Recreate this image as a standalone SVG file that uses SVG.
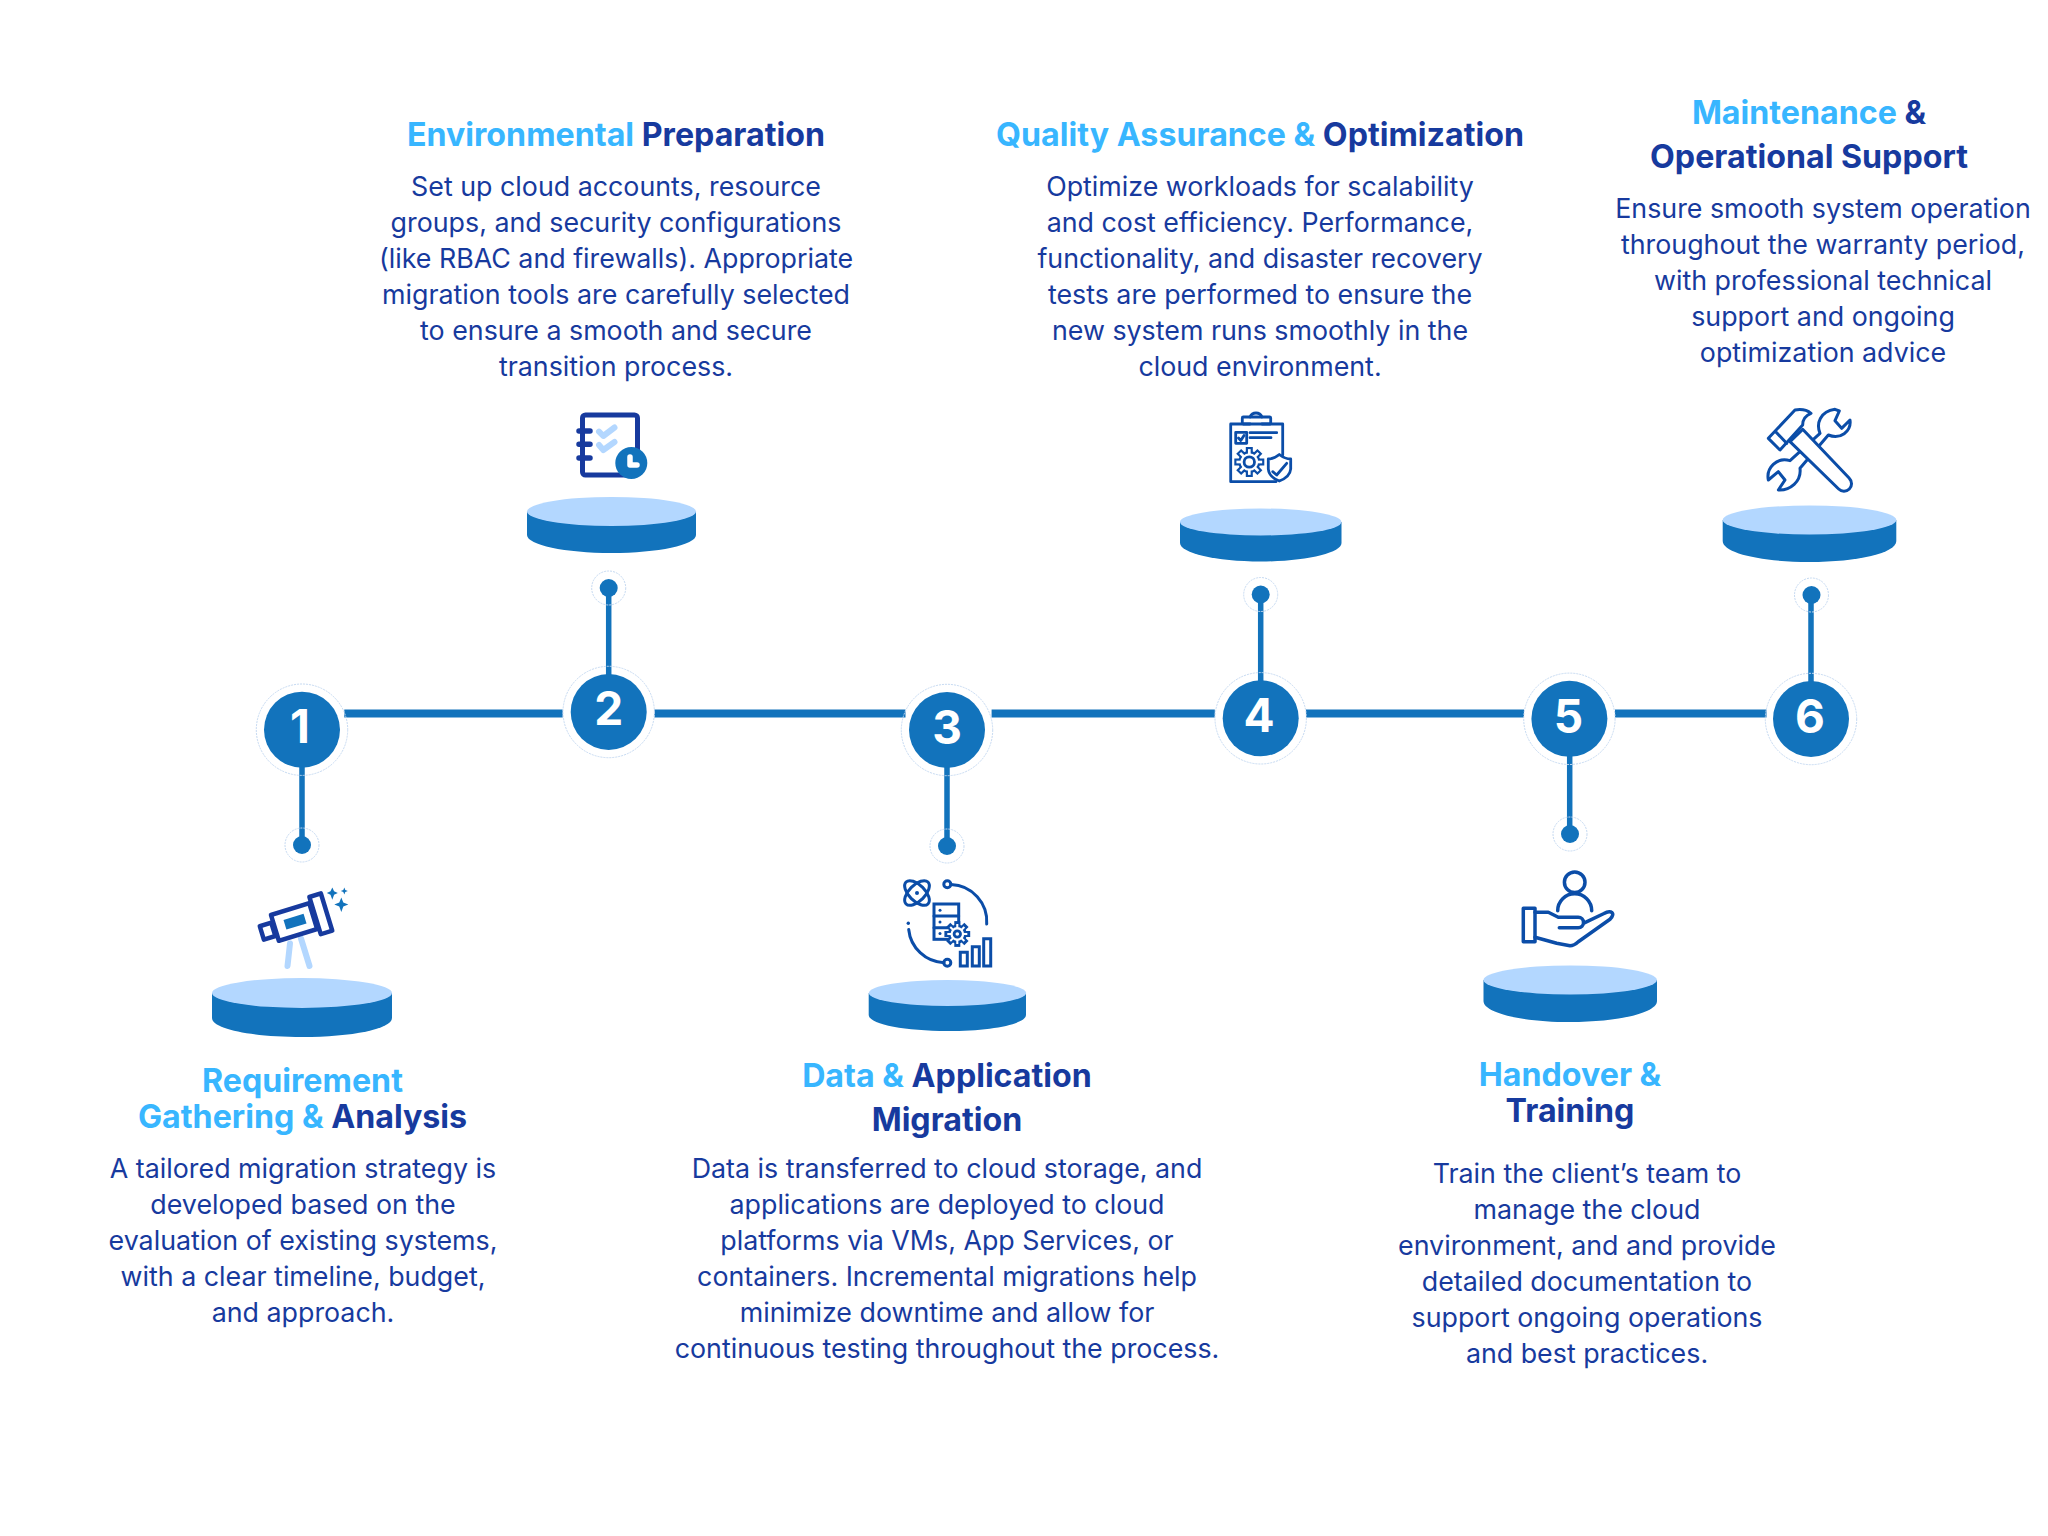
<svg xmlns="http://www.w3.org/2000/svg" width="2048" height="1536" viewBox="0 0 2048 1536">
<style>
text{font-family:Inter,"Liberation Sans",sans-serif;text-anchor:middle}
.t{font-size:32.2px;font-weight:700;fill:#173A9E}
.l{fill:#38B6FF}
.b{font-size:26.8px;fill:#173A9E}
.n{font-size:46px;font-weight:700;fill:#fff}
.c{fill:#1273BC}
.h{fill:none;stroke:#C6DAF2;stroke-width:1;stroke-dasharray:2 1}
.top{fill:#B3D7FF}
.ln{stroke:#1273BC;stroke-linecap:butt;fill:none}
.i{fill:none;stroke:#0B4DA8;stroke-linecap:round;stroke-linejoin:round}
.d{fill:none;stroke:#173A9E;stroke-linecap:round;stroke-linejoin:round}
.bg{fill:#fff}
</style>
<defs>
<g id="go" fill="#0B4DA8"><circle r="11"/><rect x="-3.5" y="-15" width="7" height="7" id="tt"/><use href="#tt" transform="rotate(45)"/><use href="#tt" transform="rotate(90)"/><use href="#tt" transform="rotate(135)"/><use href="#tt" transform="rotate(180)"/><use href="#tt" transform="rotate(225)"/><use href="#tt" transform="rotate(270)"/><use href="#tt" transform="rotate(315)"/></g>
<g id="gi" fill="#fff"><circle r="8.6"/><rect x="-1.3" y="-12.5" width="2.6" height="7" id="ti"/><use href="#ti" transform="rotate(45)"/><use href="#ti" transform="rotate(90)"/><use href="#ti" transform="rotate(135)"/><use href="#ti" transform="rotate(180)"/><use href="#ti" transform="rotate(225)"/><use href="#ti" transform="rotate(270)"/><use href="#ti" transform="rotate(315)"/></g>
</defs>
<rect width="2048" height="1536" fill="#fff"/>
<g id="connectors">
<path class="ln" stroke-width="8" d="M344.300 713.500H562.700M654.400 713.500H905.500M991.600 713.500H1214.800M1306 713.500H1524M1615 713.500H1766.500"/>
<path class="ln" stroke-width="5.500" d="M302 730V845M608.700 712V588M947 730V846M1260.700 718V594M1569.700 719V833M1811 719V594"/>
</g>
<g id="step1">
<circle class="h" cx="302" cy="729.700" r="45.700"/><circle class="c" cx="302" cy="729.700" r="38"/><text class="n" x="300" y="742.700">1</text>
<circle class="h" cx="302" cy="845" r="17"/><circle class="c" cx="302" cy="845" r="9"/>
<path d="M290 943.500L287.500 966M301 938.500L309.500 966" fill="none" stroke="#B3D7FF" stroke-width="6" stroke-linecap="round"/>
<g transform="translate(295 921.700) rotate(-17)">
<rect class="d" x="-35" y="-6" width="12" height="14" stroke-width="4.500"/>
<rect class="d bg" x="-21" y="-13.500" width="40" height="27" stroke-width="4.500"/>
<rect class="d bg" x="21" y="-19.500" width="12" height="39" stroke-width="4.500"/>
<rect class="c" x="-10.500" y="-5" width="21" height="10"/>
</g>
<path class="c" d="M332.300 887.500l1.800 3.700 3.700 1.800-3.700 1.800-1.800 5-1.800-5-3.700-1.800 3.700-1.800zM344.300 887.500l1 2.500 2.500 1-2.500 1-1 2.500-1-2.500-2.500-1 2.500-1zM341.300 897.500l2 5 5 2-5 2-2 5.500-2-5.500-5-2 5-2z"/>
<path class="c" d="M212 993V1018C212 1029 252 1037 302 1037S392 1029 392 1018V993Z"/><ellipse class="top" cx="302" cy="993" rx="90" ry="15"/>
<text class="t" x="302.500" y="1091.500"><tspan class="l">Requirement</tspan></text>
<text class="t" x="302.500" y="1127.500"><tspan class="l">Gathering &amp; </tspan>Analysis</text>
<text class="b"><tspan x="303" y="1178.300">A tailored migration strategy is</tspan><tspan x="303" y="1214.300">developed based on the</tspan><tspan x="303" y="1250.300">evaluation of existing systems,</tspan><tspan x="303" y="1286.300">with a clear timeline, budget,</tspan><tspan x="303" y="1322">and approach.</tspan></text>
</g>
<g id="step2">
<circle class="h" cx="608.700" cy="712" r="45.700"/><circle class="c" cx="608.700" cy="712" r="38"/><text class="n" x="608.700" y="725">2</text>
<circle class="h" cx="608.700" cy="588" r="17"/><circle class="c" cx="608.700" cy="588" r="9"/>
<rect class="d" x="582.500" y="415" width="55" height="60" rx="3" stroke-width="5"/>
<path class="d" stroke-width="5.500" d="M579 431H590M579 444.300H590M579 458H590"/>
<path fill="none" stroke="#B3D7FF" stroke-width="6" stroke-linecap="round" stroke-linejoin="round" d="M599 431.700L603.300 436L614.500 427.500M599 445L603.300 450L614.500 442"/>
<circle class="c" cx="631.300" cy="463" r="16"/><path fill="none" stroke="#fff" stroke-width="5.500" stroke-linecap="round" stroke-linejoin="round" d="M630 457V465H637"/>
<path class="c" d="M527 511.500V535C527 545 565 553 611.500 553S696 545 696 535V511.500Z"/><ellipse class="top" cx="611.500" cy="511.500" rx="84.500" ry="14.500"/>
<text class="t" x="616" y="146"><tspan class="l">Environmental </tspan>Preparation</text>
<text class="b"><tspan x="616" y="196.300">Set up cloud accounts, resource</tspan><tspan x="616" y="232.300">groups, and security configurations</tspan><tspan x="616" y="268.300">(like RBAC and firewalls). Appropriate</tspan><tspan x="616" y="304.300">migration tools are carefully selected</tspan><tspan x="616" y="340.300">to ensure a smooth and secure</tspan><tspan x="616" y="376.300">transition process.</tspan></text>
</g>
<g id="step3">
<circle class="h" cx="947" cy="730" r="45.700"/><circle class="c" cx="947" cy="730" r="38"/><text class="n" x="947" y="743.500">3</text>
<circle class="h" cx="947" cy="846" r="17"/><circle class="c" cx="947" cy="846" r="9"/>
<g class="i" stroke-width="3"><ellipse cx="917" cy="893" rx="15.500" ry="8" transform="rotate(45 917 893)"/><ellipse cx="917" cy="893" rx="15.500" ry="8" transform="rotate(-45 917 893)"/>
<circle cx="947.300" cy="884.300" r="3.500"/><circle cx="947.300" cy="962.700" r="3.500"/>
<path d="M951 884.500A37 37 0 0 1 986.700 924M908.700 929.500A37 37 0 0 0 944 962.700"/>
<rect x="934" y="904" width="24.700" height="35.300" stroke-linecap="butt" stroke-linejoin="miter"/><path d="M934 916H958.700M934 927.700H958.700"/>
<path stroke-linejoin="miter" d="M960.300 952.300h7v13.700h-7zM972.300 946.700h7V966h-7zM983.700 938.700h7V966h-7z"/></g>
<g fill="#0B4DA8"><circle cx="917" cy="893" r="2"/><circle cx="908.300" cy="923.300" r="1.700"/><circle cx="940" cy="910.300" r="1.500"/><circle cx="940" cy="922" r="1.500"/><circle cx="940" cy="933.500" r="1.500"/></g>
<use href="#go" transform="translate(957.300 934) scale(.86)"/><use href="#gi" transform="translate(957.300 934) scale(.8)"/><circle class="i" cx="957.300" cy="934" r="3.200" stroke-width="2.800"/>
<path class="c" d="M868.700 993V1015C868.700 1024 904 1031 947.500 1031S1026 1024 1026 1015V993Z"/><ellipse class="top" cx="947.500" cy="993" rx="78.700" ry="13"/>
<text class="t" x="947" y="1087"><tspan class="l">Data &amp; </tspan>Application</text>
<text class="t" x="947" y="1131">Migration</text>
<text class="b"><tspan x="947" y="1178.300">Data is transferred to cloud storage, and</tspan><tspan x="947" y="1214.300">applications are deployed to cloud</tspan><tspan x="947" y="1250.300">platforms via VMs, App Services, or</tspan><tspan x="947" y="1286.300">containers. Incremental migrations help</tspan><tspan x="947" y="1322.300">minimize downtime and allow for</tspan><tspan x="947" y="1358.300">continuous testing throughout the process.</tspan></text>
</g>
<g id="step4">
<circle class="h" cx="1260.700" cy="718.300" r="45.700"/><circle class="c" cx="1260.700" cy="718.300" r="38"/><text class="n" x="1259" y="732">4</text>
<circle class="h" cx="1260.700" cy="594.500" r="17"/><circle class="c" cx="1260.700" cy="594.500" r="9"/>
<g class="i" stroke-width="2.800" stroke-linecap="butt">
<path d="M1250 424H1230.700V481.700H1276M1282.700 455V424H1262"/>
<path d="M1250 417A6.500 6.500 0 0 1 1262 417"/><rect x="1242.300" y="417" width="28.400" height="7" rx="1"/>
<rect x="1235.700" y="432.300" width="11" height="11"/><path d="M1238.500 438L1240.800 440.500L1244 435.500M1250 432.700H1276.700M1250 437.700H1271"/>
</g>
<use href="#go" transform="translate(1249.300 462)"/><use href="#gi" transform="translate(1249.300 462) scale(1.030)"/><circle class="i" cx="1249.300" cy="462" r="5.200" stroke-width="2.800"/>
<path class="i bg" stroke-width="2.800" d="M1279.300 454.500Q1285 459 1290.700 459V469Q1290 477 1279.300 481Q1269 477 1268.300 469V459Q1274 459 1279.300 454.500Z"/>
<path class="i" stroke-width="2.800" d="M1272.700 471.700L1276.700 475L1286.700 463.300"/>
<path class="c" d="M1180 522V543C1180 553 1216 561.500 1260.700 561.500S1341.500 553 1341.500 543V522Z"/><ellipse class="top" cx="1260.700" cy="522" rx="80.700" ry="13.500"/>
<text class="t" x="1260" y="146"><tspan class="l">Quality Assurance &amp; </tspan>Optimization</text>
<text class="b"><tspan x="1260" y="196.300">Optimize workloads for scalability</tspan><tspan x="1260" y="232.300">and cost efficiency. Performance,</tspan><tspan x="1260" y="268.300">functionality, and disaster recovery</tspan><tspan x="1260" y="304.300">tests are performed to ensure the</tspan><tspan x="1260" y="340.300">new system runs smoothly in the</tspan><tspan x="1260" y="376.300">cloud environment.</tspan></text>
</g>
<g id="step5">
<circle class="h" cx="1569.400" cy="718.800" r="45.700"/><circle class="c" cx="1569.400" cy="718.800" r="38"/><text class="n" x="1568.500" y="732.500">5</text>
<circle class="h" cx="1570" cy="834" r="17"/><circle class="c" cx="1570" cy="834" r="9"/>
<g class="i" stroke-width="3.500"><circle cx="1574.700" cy="882.300" r="10.300"/><path d="M1557.700 910.700A17 17 0 0 1 1591.700 910.700"/><rect x="1523.300" y="908.300" width="11.700" height="33.400"/>
<path d="M1535 912.300H1548.300L1558.300 917.300H1578.300A5.200 5.200 0 0 1 1578.300 927.700H1559.300M1535 937.300L1556.700 943.300L1570 945.700Q1574 945.700 1578.300 941.700L1610 919.300Q1615 914 1611 912Q1608 911 1604 913.500L1583.300 923.300"/></g>
<path class="c" d="M1483.500 980V1001C1483.500 1013 1522 1022 1570 1022S1657 1013 1657 1001V980Z"/><ellipse class="top" cx="1570.200" cy="980" rx="86.700" ry="14.500"/>
<text class="t" x="1570" y="1085.500"><tspan class="l">Handover &amp;</tspan></text>
<text class="t" x="1570" y="1121.500">Training</text>
<text class="b"><tspan x="1587" y="1183.300">Train the client’s team to</tspan><tspan x="1587" y="1219.300">manage the cloud</tspan><tspan x="1587" y="1255.300">environment, and and provide</tspan><tspan x="1587" y="1291.300">detailed documentation to</tspan><tspan x="1587" y="1327.300">support ongoing operations</tspan><tspan x="1587" y="1363.300">and best practices.</tspan></text>
</g>
<g id="step6">
<circle class="h" cx="1811" cy="719" r="45.700"/><circle class="c" cx="1811" cy="719" r="38"/><text class="n" x="1810" y="732.500">6</text>
<circle class="h" cx="1811.500" cy="595" r="17"/><circle class="c" cx="1811.500" cy="595" r="9"/>
<g transform="translate(1740 400) scale(.3333)" class="i" stroke-width="9">
<path class="bg" d="M240 100C228 70 240 35 285 28L298 33L285 62L305 85L330 60C335 95 300 120 265 105L180 205C185 245 150 272 115 270L135 240L115 215L85 240C78 205 110 170 150 182Z"/>
<path class="bg" d="M188 88L328 235A22 22 0 0 1 296 267L150 125Z"/>
<path class="bg" d="M85 115L165 30Q195 25 213 40Q188 50 188 75L120 150Z"/><path d="M107 95L140 130"/>
</g>
<path class="c" d="M1722.700 520V541C1722.700 553 1761 562 1809.500 562S1896.300 553 1896.300 541V520Z"/><ellipse class="top" cx="1809.500" cy="520" rx="86.800" ry="14.500"/>
<text class="t" x="1809" y="124"><tspan class="l">Maintenance </tspan>&amp;</text>
<text class="t" x="1809" y="167.500">Operational Support</text>
<text class="b"><tspan x="1823" y="218.300">Ensure smooth system operation</tspan><tspan x="1823" y="254.300">throughout the warranty period,</tspan><tspan x="1823" y="290.300">with professional technical</tspan><tspan x="1823" y="326.300">support and ongoing</tspan><tspan x="1823" y="362.300">optimization advice</tspan></text>
</g>
</svg>
